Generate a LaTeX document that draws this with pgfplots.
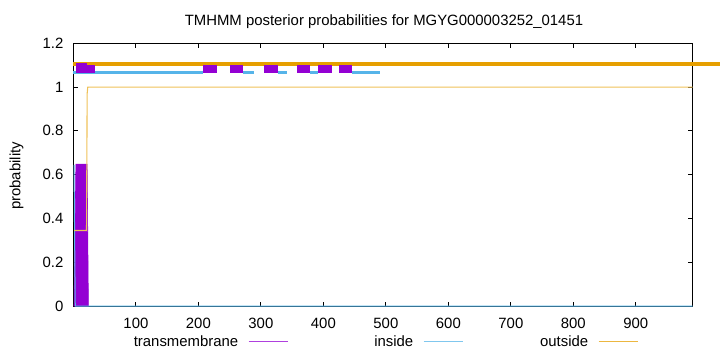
\documentclass[border=0pt]{standalone}
\usepackage{fontspec}
\setmainfont{Liberation Sans}
\usepackage{pgfplots}
\pgfplotsset{compat=1.18}
\definecolor{tmcol}{HTML}{9400D3}
\definecolor{incol}{HTML}{56B4E9}
\definecolor{outcol}{HTML}{E69F00}
\begin{document}
\begin{tikzpicture}[x=1bp,y=1bp,font=\fontsize{14.9bp}{17bp}\selectfont]
\begin{axis}[
  at={(73.4bp,46bp)}, anchor=south west,
  scale only axis, width=619.3bp, height=262.7bp,
  xmin=0, xmax=991, ymin=0, ymax=1.2,
  clip=false,
  /pgf/number format/assume math mode=true,
  xtick={100,200,300,400,500,600,700,800,900},
  xticklabels={100,200,300,400,500,600,700,800,900},
  ytick={0,0.2,0.4,0.6,0.8,1,1.2},
  yticklabels={0,0.2,0.4,0.6,0.8,1,1.2},
  tick align=inside, major tick length=4.5bp,
  every tick/.style={black, line width=0.8bp},
  axis line style={black, line width=1bp},
  xticklabel style={anchor=base, inner sep=0pt, yshift=-22bp},
  yticklabel style={anchor=east, inner sep=0pt, xshift=-9.9bp},
  title={TMHMM posterior probabilities for MGYG000003252\_01451},
  title style={at={(axis description cs:0.5015,1.0442)}, anchor=base, inner sep=0pt},
  ylabel={probability},
  ylabel style={at={(axis description cs:-0.0919,0.495)}, anchor=center, inner sep=0pt},
  unbounded coords=jump,
  legend plot pos=right,
  legend columns=3,
  legend style={draw=none, fill=none, inner sep=0pt,
    at={(axis description cs:0.0720,-0.1561)}, anchor=south west,
    nodes={inner sep=0pt, text depth=0pt}, cells={anchor=base west}, column sep=0pt,
    /tikz/every odd column/.append style={column sep=10bp},
    /tikz/every even column/.append style={column sep=5bp}},
]
\addlegendimage{legend image code/.code={\draw[tmcol!75, line width=1bp] (0bp,5.3bp) -- (39bp,5.3bp);}}
\addlegendentry{\makebox[120bp][r]{transmembrane}}
\addlegendimage{legend image code/.code={\draw[incol!75, line width=1bp] (0bp,5.3bp) -- (39bp,5.3bp);}}
\addlegendentry{\makebox[120bp][r]{inside}}
\addlegendimage{legend image code/.code={\draw[outcol!75, line width=1bp] (0bp,5.3bp) -- (39bp,5.3bp);}}
\addlegendentry{\makebox[120bp][r]{outside}}

% posterior probabilities
\addplot[forget plot, fill=tmcol, draw=tmcol, line width=0.6bp] coordinates {(1,0)(4,0.648)(22,0.648)(24,0)} \closedcycle;
\addplot[forget plot, incol, line width=1bp] coordinates {(1,0.645)(2,0.30)(3,0)(991,0)};
\addplot[forget plot, outcol!65, line width=1.1bp] coordinates {(1,0.345)(21,0.345)(22,0.97)(23,1)(991,1)};

% predicted topology tracks
\addplot[forget plot, outcol, line width=4bp] coordinates {(0,1.107)(1035,1.107)};
\addplot[forget plot, incol, line width=2.7bp] table[row sep=\\]{
x y\\
0 1.068\\ 207.4 1.068\\ 208 nan\\
271.5 1.068\\ 289 1.068\\ 290 nan\\
327.6 1.068\\ 342 1.068\\ 343 nan\\
379 1.068\\ 391.6 1.068\\ 392 nan\\
446 1.068\\ 491 1.068\\
};
\addplot[forget plot, tmcol, line width=7.6bp] table[row sep=\\]{
x y\\
4 1.082\\ 35 1.082\\ 36 nan\\
207.4 1.082\\ 230 1.082\\ 231 nan\\
250.7 1.082\\ 271.5 1.082\\ 272 nan\\
305 1.082\\ 327.6 1.082\\ 328 nan\\
358 1.082\\ 379 1.082\\ 380 nan\\
391.6 1.082\\ 414 1.082\\ 415 nan\\
425 1.082\\ 446 1.082\\
};
\addplot[forget plot, tmcol, line width=10.6bp] coordinates {(4,1.087)(21.8,1.087)};
\end{axis}
\pgfresetboundingbox
\path[use as bounding box] (0,0) rectangle (720,352);
\end{tikzpicture}
\end{document}
